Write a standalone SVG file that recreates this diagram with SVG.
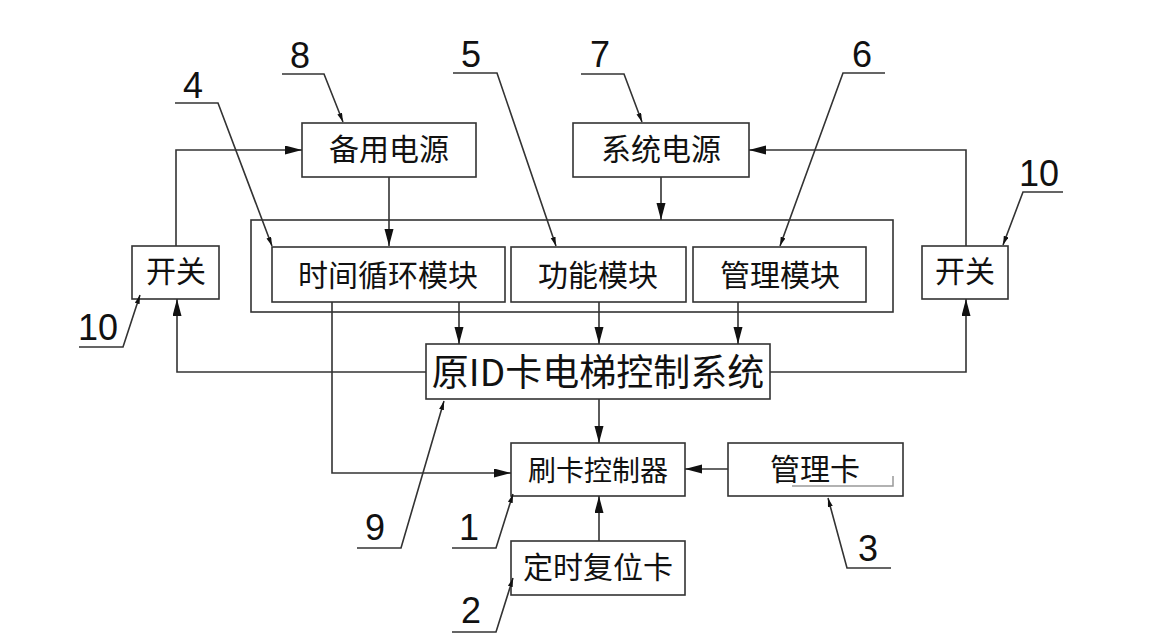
<svg xmlns="http://www.w3.org/2000/svg" width="1159" height="644" viewBox="0 0 1159 644">
<style>
.box{fill:#fff;stroke:#333;stroke-width:1.6}
.ln{fill:none;stroke:#333;stroke-width:1.6}
.t{font-family:"Noto Sans CJK SC","Noto Sans",sans-serif;font-size:30px;fill:#111;text-anchor:middle}
.n{font-family:"Liberation Sans",Arial,sans-serif;font-size:36px;fill:#111;text-anchor:middle}
</style>
<defs>
<marker id="a" markerUnits="userSpaceOnUse" markerWidth="18" markerHeight="10" refX="17" refY="4.5" orient="auto">
<path d="M0,0 L17,4.5 L0,9 z" fill="#111"/>
</marker>
<marker id="s" markerUnits="userSpaceOnUse" markerWidth="10" markerHeight="6" refX="9" refY="2.5" orient="auto">
<path d="M0,0 L9,2.5 L0,5 z" fill="#111"/>
</marker>
</defs>
<rect width="1159" height="644" fill="#fff"/>

<g id="container"><rect class="box" x="251" y="220" width="642" height="92"/></g>
<g id="n-backup"><rect class="box" x="302" y="123" width="174" height="54"/><text class="t" x="389" y="160">备用电源</text></g>
<g id="n-syspower"><rect class="box" x="573" y="123" width="176" height="54"/><text class="t" x="661" y="160">系统电源</text></g>
<g id="n-time"><rect class="box" x="272" y="247" width="233" height="55"/><text class="t" x="388" y="286">时间循环模块</text></g>
<g id="n-func"><rect class="box" x="511" y="247" width="175" height="55"/><text class="t" x="598" y="286">功能模块</text></g>
<g id="n-mgmt"><rect class="box" x="693" y="247" width="173" height="55"/><text class="t" x="780" y="286">管理模块</text></g>
<g id="n-swl"><rect class="box" x="132" y="246" width="87" height="53"/><text class="t" x="176" y="282">开关</text></g>
<g id="n-swr"><rect class="box" x="922" y="246" width="86" height="53"/><text class="t" x="965" y="282">开关</text></g>
<g id="n-sys"><rect class="box" x="426" y="344" width="344" height="55"/><text class="t" x="598" y="386" style="font-size:37px">原ID卡电梯控制系统</text></g>
<g id="n-reader"><rect class="box" x="511" y="443" width="174" height="53"/><text class="t" x="598" y="481" style="font-size:28px">刷卡控制器</text></g>
<g id="n-card"><rect class="box" x="728" y="443" width="175" height="53"/><text class="t" x="815" y="480">管理卡</text>
<path d="M792,486 H893 V476" fill="none" stroke="#999" stroke-width="1.5"/></g>
<g id="n-reset"><rect class="box" x="511" y="541" width="174" height="54"/><text class="t" x="598" y="578">定时复位卡</text></g>

<g id="connectors">
<path class="ln" d="M176,246 V150 H302" marker-end="url(#a)"/>
<path class="ln" d="M966,246 V150 H749" marker-end="url(#a)"/>
<path class="ln" d="M389,177 V246" marker-end="url(#a)"/>
<path class="ln" d="M661,177 V220" marker-end="url(#a)"/>
<path class="ln" d="M459,302 V344" marker-end="url(#a)"/>
<path class="ln" d="M599,302 V344" marker-end="url(#a)"/>
<path class="ln" d="M738,302 V344" marker-end="url(#a)"/>
<path class="ln" d="M426,372 H177 V299" marker-end="url(#a)"/>
<path class="ln" d="M770,372 H966 V299" marker-end="url(#a)"/>
<path class="ln" d="M332,302 V473 H511" marker-end="url(#a)"/>
<path class="ln" d="M599,399 V443" marker-end="url(#a)"/>
<path class="ln" d="M728,469 H685" marker-end="url(#a)"/>
<path class="ln" d="M599,541 V496" marker-end="url(#a)"/>
</g>

<g id="labels">
<text class="n" x="300" y="68">8</text>
<path class="ln" d="M282,74 H324 L343,122" marker-end="url(#s)"/>
<text class="n" x="193" y="98">4</text>
<path class="ln" d="M175,103 H218 L272,246" marker-end="url(#s)"/>
<text class="n" x="471" y="67">5</text>
<path class="ln" d="M453,73 H497 L556,246" marker-end="url(#s)"/>
<text class="n" x="600" y="67">7</text>
<path class="ln" d="M581,74 H624 L642,122" marker-end="url(#s)"/>
<text class="n" x="862" y="67">6</text>
<path class="ln" d="M885,73 H843 L780,246" marker-end="url(#s)"/>
<text class="n" x="1039" y="186">10</text>
<path class="ln" d="M1063,192 H1023 L1003,245" marker-end="url(#s)"/>
<text class="n" x="98" y="340">10</text>
<path class="ln" d="M79,347 H123 L140,295" marker-end="url(#s)"/>
<text class="n" x="375" y="540">9</text>
<path class="ln" d="M357,548 H401 L444,401" marker-end="url(#s)"/>
<text class="n" x="469" y="540">1</text>
<path class="ln" d="M452,548 H496 L513,494" marker-end="url(#s)"/>
<text class="n" x="471" y="623">2</text>
<path class="ln" d="M452,632 H496 L513,578" marker-end="url(#s)"/>
<text class="n" x="868" y="561">3</text>
<path class="ln" d="M891,568 H847 L828,498" marker-end="url(#s)"/>
</g>
</svg>
